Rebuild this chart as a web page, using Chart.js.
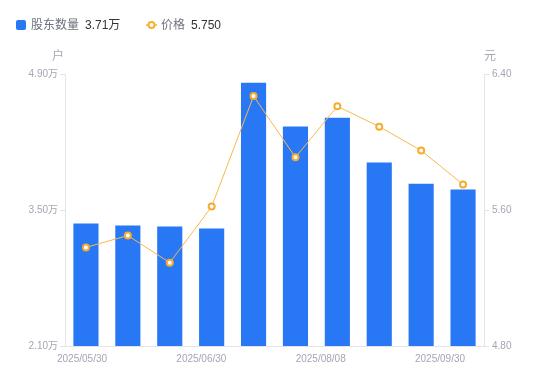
<!DOCTYPE html>
<html>
<head>
<meta charset="utf-8">
<script src="https://cdn.jsdelivr.net/npm/chart.js@4"></script>
<style>
  html, body { margin:0; padding:0; background:#fff; }
  #wrap { position:relative; width:550px; height:381px; font-family:"Liberation Sans","Noto Sans CJK SC",sans-serif; }
  canvas { position:absolute; left:0; top:0; }
  .lg { position:absolute; top:17px; height:16px; line-height:16px; font-size:12px; white-space:nowrap; }
  .lab { color:#6e717d; }
  .val { color:#333; margin-left:6px; }
</style>
</head>
<body>
<div id="wrap">
  <canvas id="c" width="550" height="381"></canvas>
  <div class="lg" style="left:16px;">
    <span style="display:inline-block;width:10px;height:10px;background:#2878f6;border-radius:2px;vertical-align:-1px;margin-right:5px;"></span><span class="lab">股东数量</span><span class="val" id="v1"></span>
  </div>
  <div class="lg" style="left:146px;">
    <svg width="11" height="10" style="vertical-align:-1px;margin-right:4px;"><line x1="0" y1="5" x2="11" y2="5" stroke="#f8b030" stroke-width="1.5"/><circle cx="5.5" cy="5" r="3" fill="#fff" stroke="#f8b030" stroke-width="2"/></svg><span class="lab">价格</span><span class="val" id="v2"></span>
  </div>
</div>
<script>
const dates = ["2025/05/30","2025/06/10","2025/06/20","2025/06/30","2025/07/10","2025/07/31","2025/08/08","2025/08/20","2025/08/29","2025/09/30"];
const holders = [3.36, 3.34, 3.33, 3.31, 4.81, 4.36, 4.45, 3.99, 3.77, 3.71];
const prices = [5.38, 5.45, 5.29, 5.62, 6.27, 5.91, 6.21, 6.09, 5.95, 5.75];
const leftTicks = [2.10, 3.50, 4.90];
const rightTicks = [4.80, 5.60, 6.40];
const shownDateIdx = [0, 3, 6, 9];

document.getElementById('v1').textContent = holders[holders.length-1].toFixed(2) + '万';
document.getElementById('v2').textContent = prices[prices.length-1].toFixed(3);

const FONT = '"Liberation Sans","Noto Sans CJK SC",sans-serif';
const AX = '#e3e4e8';
const TXT = '#a3a6b4';

const axisTitles = {
  id: 'axisTitles',
  afterDraw(chart) {
    const ctx = chart.ctx, a = chart.chartArea;
    ctx.save();
    ctx.font = '12px ' + FONT;
    ctx.fillStyle = TXT;
    ctx.textBaseline = 'middle';
    ctx.textAlign = 'center';
    ctx.fillText('户', a.left - 7, a.top - 17);
    ctx.fillText('元', a.right + 6, a.top - 17);
    ctx.restore();
  }
};

new Chart(document.getElementById('c'), {
  data: {
    labels: dates,
    datasets: [
      { type: 'line', label: '价格', data: prices, yAxisID: 'y1', xAxisID: 'x',
        borderColor: '#f8b84e', borderWidth: 1, tension: 0,
        pointRadius: 3, pointBorderWidth: 2, pointBackgroundColor: '#fff', pointBorderColor: '#f8ac2e',
        order: 0 },
      { type: 'bar', label: '股东数量', data: holders, yAxisID: 'y', xAxisID: 'x',
        backgroundColor: '#2878f6', borderWidth: 0,
        barPercentage: 0.6, categoryPercentage: 1.0, order: 1 }
    ]
  },
  options: {
    responsive: false, animation: false,
    layout: { padding: { top: 74, left: 0, right: 0, bottom: 0 } },
    plugins: { legend: { display: false }, tooltip: { enabled: false } },
    scales: {
      x: { type: 'category', display: false, offset: true },
      xl: { type: 'linear', position: 'bottom', min: 0, max: 10,
        afterBuildTicks(s) { s.ticks = shownDateIdx.map((d, k) => ({ value: 0.406 + 2.848 * k, label: dates[d] })); },
        afterFit(s) { s.height = 35; },
        grid: { display: false, drawTicks: false },
        border: { display: true, color: AX, width: 1 },
        ticks: { autoSkip: false, maxRotation: 0, padding: 7, color: TXT, font: { size: 10, family: FONT },
          callback(v, i) { return dates[shownDateIdx[i]]; } }
      },
      y: { type: 'linear', position: 'left', min: 2.1, max: 4.9,
        afterBuildTicks(s) { s.ticks = leftTicks.map(v => ({ value: v })); },
        afterFit(s) { s.width = 65; },
        grid: { drawOnChartArea: false, tickLength: 5, color: AX },
        border: { color: AX },
        ticks: { padding: 2, color: TXT, font: { size: 10, family: FONT }, callback: v => v.toFixed(2) + '万' }
      },
      y1: { type: 'linear', position: 'right', min: 4.8, max: 6.4,
        afterBuildTicks(s) { s.ticks = rightTicks.map(v => ({ value: v })); },
        afterFit(s) { s.width = 66; },
        grid: { drawOnChartArea: false, tickLength: 5, color: AX },
        border: { color: AX },
        ticks: { padding: 3, color: TXT, font: { size: 10, family: FONT }, callback: v => v.toFixed(2) }
      }
    }
  },
  plugins: [axisTitles]
});
</script>
</body>
</html>
